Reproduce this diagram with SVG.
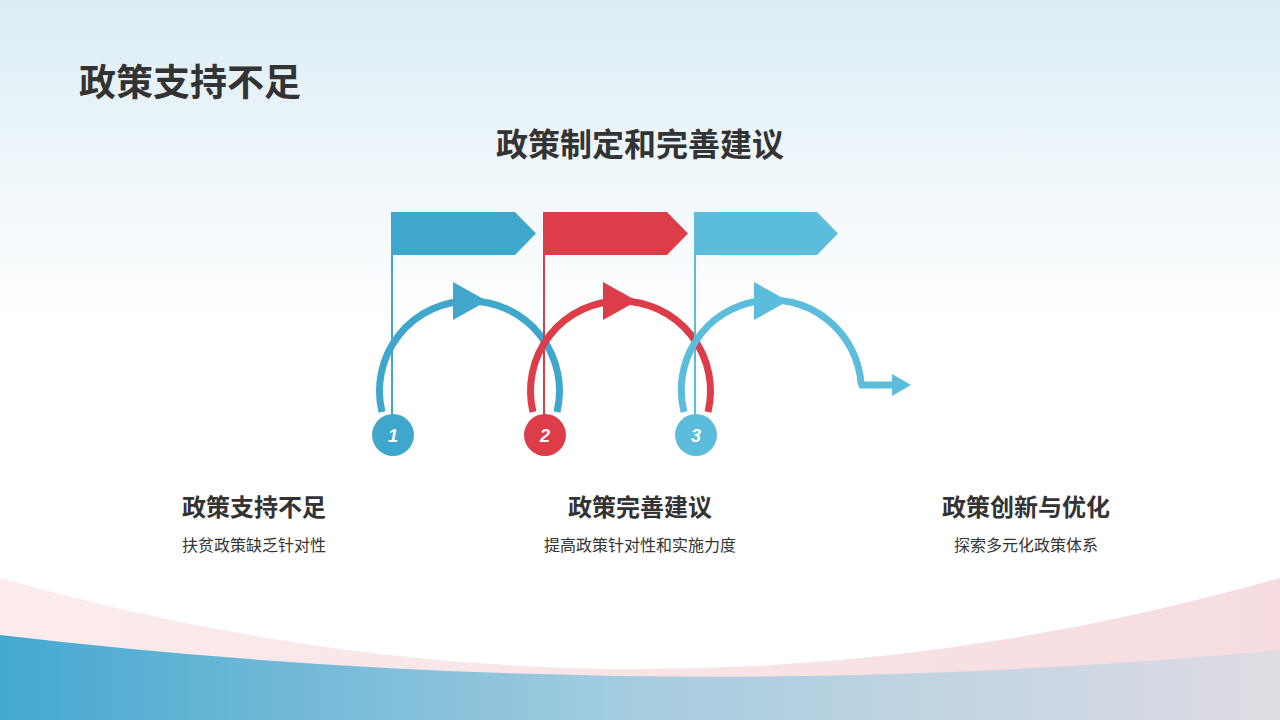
<svg xmlns="http://www.w3.org/2000/svg" width="1280" height="720" viewBox="0 0 1280 720">
<defs>
<linearGradient id="bg" x1="0" y1="0" x2="0" y2="1"><stop offset="0" stop-color="#dcedf5"/><stop offset="0.45" stop-color="#ffffff"/><stop offset="1" stop-color="#ffffff"/></linearGradient>
<linearGradient id="pk" x1="0" y1="0" x2="1" y2="0"><stop offset="0" stop-color="#fcecec"/><stop offset="1" stop-color="#f6dcdf"/></linearGradient>
<linearGradient id="bl" x1="0" y1="0" x2="1" y2="0"><stop offset="0" stop-color="#45a8d0"/><stop offset="0.5" stop-color="#a6cde0"/><stop offset="1" stop-color="#e0dce4"/></linearGradient>
<style>
.t{font-family:"Noto Sans CJK SC","Liberation Sans",sans-serif;fill:#333}
.h{font-weight:bold;font-size:24px;text-anchor:middle}
.s{font-size:16px;text-anchor:middle}
.n{font-family:"Liberation Sans",sans-serif;font-weight:bold;font-style:italic;font-size:18px;fill:#fff;text-anchor:middle}
.arc{fill:none;stroke-width:7}
</style>
</defs>
<rect width="1280" height="720" fill="url(#bg)"/>
<path d="M0,578 Q640,760 1280,578 L1280,720 L0,720 Z" fill="url(#pk)"/>
<path d="M0,635 Q640,710 1280,650 L1280,720 L0,720 Z" fill="url(#bl)"/>
<text class="t" x="79" y="96" font-size="37" font-weight="bold">政策支持不足</text>
<text class="t" x="640" y="156" font-size="32" font-weight="bold" text-anchor="middle">政策制定和完善建议</text>
<g id="connectors">
<path class="arc" stroke="#3fa6cc" d="M382,412 A90,90 0 1 1 557,412"/>
<path class="arc" stroke="#dd3c49" d="M533,412 A90,90 0 1 1 708,412"/>
<path class="arc" stroke="#5bbcdb" d="M684,412 A90,90 0 1 1 861,383 L862,385 L895,385"/>
<polygon fill="#3fa6cc" points="453,282 487,301 453,320"/>
<polygon fill="#dd3c49" points="603,282 637,301 603,320"/>
<polygon fill="#5bbcdb" points="754,282 788,301 754,320"/>
<polygon fill="#5bbcdb" points="892,374 911,385 892,396"/>
</g>
<g id="flag1"><line x1="392" y1="212" x2="392" y2="420" stroke="#3fa6cc" stroke-width="2"/><polygon fill="#3fa6cc" points="392,212 515,212 536,233.5 515,255 392,255"/></g>
<g id="flag2"><line x1="544" y1="212" x2="544" y2="420" stroke="#dd3c49" stroke-width="2"/><polygon fill="#dd3c49" points="543,212 667,212 688,233.5 667,255 543,255"/></g>
<g id="flag3"><line x1="695" y1="212" x2="695" y2="420" stroke="#5bbcdb" stroke-width="2"/><polygon fill="#5bbcdb" points="695,212 817,212 838,233.5 817,255 695,255"/></g>
<g id="node1"><circle cx="393" cy="435" r="21" fill="#3fa6cc"/><text class="n" x="393" y="442">1</text>
<text class="t h" x="254" y="516">政策支持不足</text><text class="t s" x="254" y="551">扶贫政策缺乏针对性</text></g>
<g id="node2"><circle cx="545" cy="435" r="21" fill="#dd3c49"/><text class="n" x="545" y="442">2</text>
<text class="t h" x="640" y="516">政策完善建议</text><text class="t s" x="640" y="551">提高政策针对性和实施力度</text></g>
<g id="node3"><circle cx="696" cy="435" r="21" fill="#5bbcdb"/><text class="n" x="696" y="442">3</text>
<text class="t h" x="1026" y="516">政策创新与优化</text><text class="t s" x="1026" y="551">探索多元化政策体系</text></g>
</svg>
